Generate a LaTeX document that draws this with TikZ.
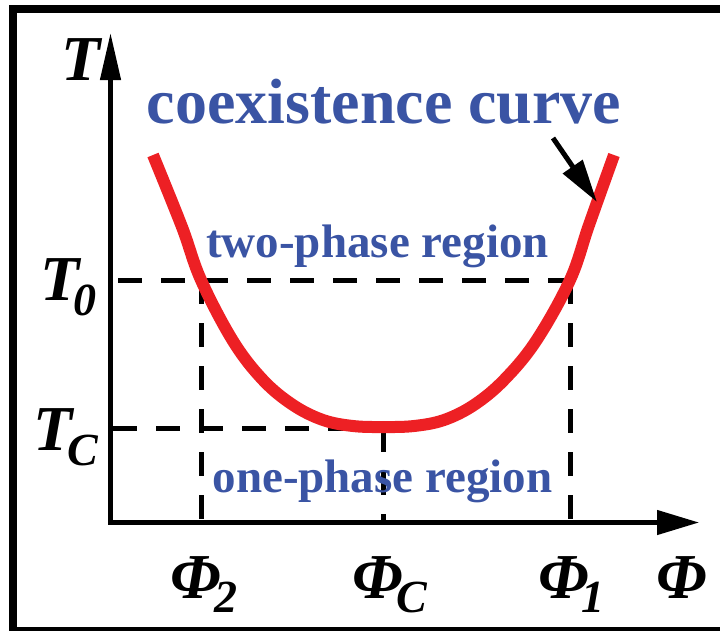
\documentclass[tikz,border=0pt]{standalone}
\usepackage{fontspec}
\setmainfont{Liberation Serif}
\usetikzlibrary{arrows.meta}
\definecolor{blueT}{RGB}{58,84,164}
\definecolor{redC}{RGB}{237,32,36}
\newcommand{\subfnt}{\fontsize{46}{50}\selectfont}
\newcommand{\withsub}[4]{\makebox[0pt]{#1}\kern#3\makebox[0pt]{\raisebox{#4}{\subfnt #2}}}
\tikzset{
  lab/.style={font=\fontsize{64}{70}\selectfont\bfseries\itshape, inner sep=0pt, anchor=base},
  labsub/.style={font=\fontsize{64}{70}\selectfont\bfseries\itshape, inner sep=0pt, anchor=base west},
  bluetxt/.style={text=blueT, inner sep=0pt, anchor=base},
  axisline/.style={line width=4.5pt, line cap=rect},
  guide/.style={line width=5pt, dash pattern=on 24pt off 19pt},
  frameline/.style={line width=8pt},
  curveline/.style={line width=12pt, redC},
}
\begin{document}
\begin{tikzpicture}[x=1pt,y=-1pt]
\useasboundingbox (0,0) rectangle (720,630);
\begin{scope}
\clip (0,0) rectangle (720,630);
\draw[frameline] (13,645) -- (13,9) -- (735,9);
\draw[frameline] (13,631) -- (735,631);
\end{scope}
% coordinates
\coordinate (O) at (110.5,522.5);
\coordinate (ytip) at (110.5,33);
\coordinate (xtip) at (699,522.5);
\coordinate (t0s) at (118,280);
\coordinate (p2t) at (201,280);
\coordinate (p2b) at (201,520);
\coordinate (p1t) at (570,280);
\coordinate (p1b) at (570,520);
\coordinate (tcs) at (113,428);
\coordinate (pct) at (383,428);
\coordinate (pcb) at (383,522);
\coordinate (arrTail) at (553,138);
\coordinate (arrTip) at (597,202);
% guide lines
\draw[guide] (t0s) -- (p1t);
\draw[guide] (p1t) -- (p1b);
\draw[guide] (p2t) -- (p2b);
\draw[guide] (tcs) -- (pct);
\draw[guide] (pct) -- (pcb);
% axes
\draw[axisline, -{Triangle[length=47pt,width=20pt]}] (O) -- (ytip);
\draw[axisline, -{Triangle[length=42pt,width=24pt]}] (O) -- (xtip);
% coexistence curve
\draw[curveline] plot[smooth, tension=0.6] coordinates {
 (153,155) (182,227) (201,280) (233,341) (263,380) (293,405) (323,420)
 (353,426) (383.5,427) (414,426) (444,420) (474,405) (504,380) (536,341)
 (570,280) (589,225) (614,155)};
% arrow
\draw[line width=5pt, -{Triangle[length=43pt,width=23pt]}] (arrTail) -- (arrTip);
% texts
\node[bluetxt, font=\fontsize{64}{70}\selectfont\bfseries] (coex) at (384,123) {coexistence curve};
\node[bluetxt, font=\fontsize{47}{52}\selectfont\bfseries] (two) at (377.5,257) {two-phase region};
\node[bluetxt, font=\fontsize{47}{52}\selectfont\bfseries] (one) at (382.5,492) {one-phase region};
% axis labels
\node[lab] (T) at (81,80) {T};
\node[labsub] (T0) at (60,300) {\withsub{T}{0}{24.5pt}{-15pt}};
\node[labsub] (TC) at (53,450) {\withsub{T}{C}{29.5pt}{-15pt}};
\node[labsub] (P2) at (195.5,598) {\withsub{Φ}{2}{30.5pt}{-14pt}};
\node[labsub] (PC) at (377.5,598) {\withsub{Φ}{C}{34.5pt}{-14pt}};
\node[labsub] (P1) at (563.5,598) {\withsub{Φ}{1}{29.5pt}{-14pt}};
\node[lab] (P) at (682,598) {Φ};
\end{tikzpicture}
\end{document}
